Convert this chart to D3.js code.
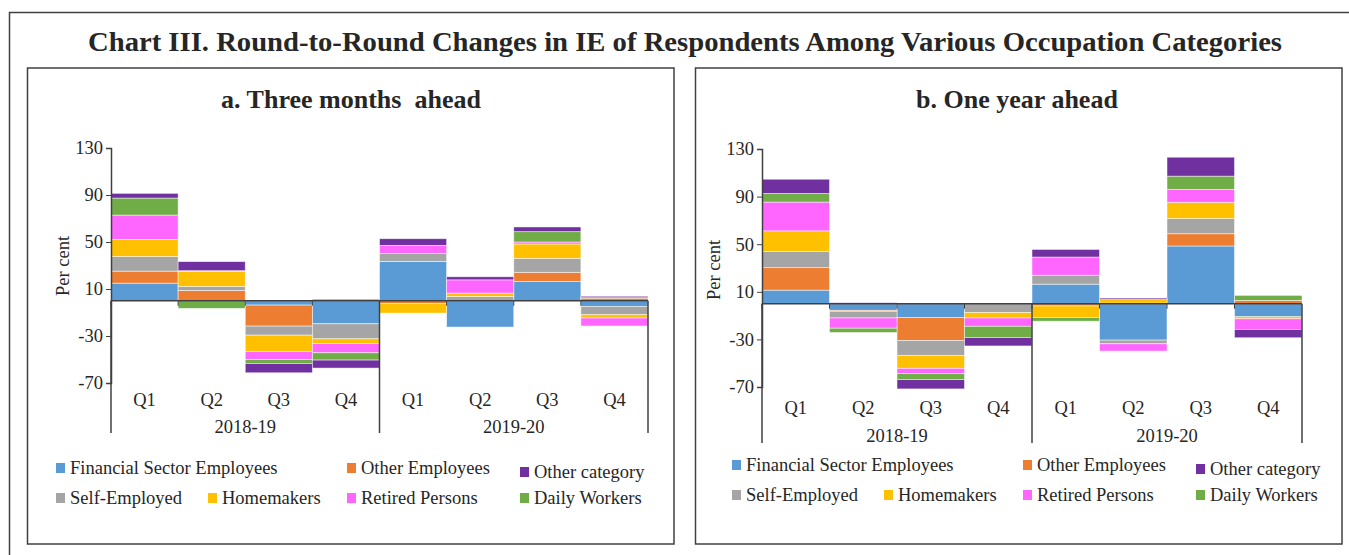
<!DOCTYPE html>
<html>
<head>
<meta charset="utf-8">
<script src="https://cdn.jsdelivr.net/npm/d3@7"></script>
<style>
    body { margin: 0; background: #fff; }
    text { font-family: "Liberation Serif", "DejaVu Serif", serif; fill: #262626; }
    .chartTitle { font-weight: bold; font-size: 27px; }
    .panelTitle { font-weight: bold; font-size: 26px; white-space: pre; }
    .tickText, .catText { font-size: 18.5px; }
    .legendText { font-size: 18.5px; }
</style>
</head>
<body>
<svg id="chart" width="1349" height="555"></svg>
<script>
/***** Data */

const periods = ['2018-19 Q1', '2018-19 Q2', '2018-19 Q3', '2018-19 Q4',
                 '2019-20 Q1', '2019-20 Q2', '2019-20 Q3', '2019-20 Q4'];
const quarterLabels = ['Q1', 'Q2', 'Q3', 'Q4', 'Q1', 'Q2', 'Q3', 'Q4'];
const yearLabels = ['2018-19', '2019-20'];
const yTicks = [-70, -30, 10, 50, 90, 130];

const seriesNames = ['Financial Sector Employees', 'Other Employees', 'Self-Employed',
                     'Homemakers', 'Retired Persons', 'Daily Workers', 'Other category'];
const seriesColors = ['#5b9bd5', '#ed7d31', '#a5a5a5', '#ffc000', '#ff66ff', '#70ad47', '#7030a0'];

// a. Three months ahead, one array per occupation (in stacking order)
const threeMonthFinancial = [15.0, 0, -3.7, -19.6, 33.5, -22.4, 16.5, -4.8];
const threeMonthOtherEmp  = [10.2, 8.8, -17.9, 1.4, -2.5, 0, 7.7, 2.2];
const threeMonthSelfEmp   = [12.5, 3.4, -7.7, -12.8, 6.8, 3.7, 11.9, -7.1];
const threeMonthHomemaker = [14.5, 12.8, -13.9, -4.0, -8.0, 2.8, 12.2, -2.8];
const threeMonthRetired   = [20.7, 0.6, -6.8, -7.9, 6.8, 11.3, 1.7, -6.8];
const threeMonthDaily     = [14.5, -6.5, -3.4, -6.2, 0, 0, 8.8, 0.4];
const threeMonthOtherCat  = [4.0, 7.7, -7.9, -6.8, 5.7, 2.6, 4.0, 1.2];

// b. One year ahead
const oneYearFinancial = [11.4, -5.6, -11.7, 0, 16.4, -30.6, 48.5, -11.0];
const oneYearOtherEmp  = [18.9, -0.8, -19.2, 0.3, -1.9, 0.5, 10.3, 2.8];
const oneYearSelfEmp   = [13.6, -5.6, -12.5, -7.5, 7.5, -3.1, 12.8, 0];
const oneYearHomemaker = [17.3, 0, -10.9, -4.5, -9.7, 3.0, 13.6, -1.7];
const oneYearRetired   = [24.2, -8.6, -4.5, -7.0, 15.3, -6.1, 10.9, -8.9];
const oneYearDaily     = [7.2, -3.6, -5.0, -9.5, -3.1, 0, 11.1, 4.2];
const oneYearOtherCat  = [12.0, 0.8, -7.8, -7.0, 6.4, 1.2, 15.9, -7.0];

const threeMonthSeries = [threeMonthFinancial, threeMonthOtherEmp, threeMonthSelfEmp,
    threeMonthHomemaker, threeMonthRetired, threeMonthDaily, threeMonthOtherCat];
const oneYearSeries = [oneYearFinancial, oneYearOtherEmp, oneYearSelfEmp,
    oneYearHomemaker, oneYearRetired, oneYearDaily, oneYearOtherCat];

/***** Drawing */

const svg = d3.select('#chart');

// outer frame and main title
svg.append('rect')
    .attr('x', 9.5).attr('y', 12.5)
    .attr('width', 1360).attr('height', 560)
    .attr('fill', 'none').attr('stroke', '#404040').attr('stroke-width', 1.5);

svg.append('text')
    .attr('class', 'chartTitle')
    .attr('x', 685).attr('y', 51)
    .attr('text-anchor', 'middle')
    .attr('textLength', 1194).attr('lengthAdjust', 'spacingAndGlyphs')
    .text('Chart III. Round-to-Round Changes in IE of Respondents Among Various Occupation Categories');

// input:
//  panel - layout of one sub chart (box, plot area, label rows, legend spots)
//  seriesValues - array of 7 arrays, one per occupation
function drawPanel (panel, seriesValues) {
    const g = svg.append('g');

    g.append('rect')
        .attr('x', panel.box[0]).attr('y', panel.box[1])
        .attr('width', panel.box[2]).attr('height', panel.box[3])
        .attr('fill', 'none').attr('stroke', '#404040').attr('stroke-width', 1.5);

    g.append('text')
        .attr('class', 'panelTitle')
        .attr('x', panel.titleX).attr('y', 108)
        .attr('text-anchor', 'middle')
        .text(panel.title);

    const x = d3.scaleBand()
        .domain(periods)
        .range([panel.left, panel.right])
        .padding(0);

    const y = d3.scaleLinear()
        .domain([-70, 130])
        .range([panel.bottom, panel.top]);

    // rows keyed by period, columns by series name
    const rows = periods.map((period, i) => {
        const row = { period };
        seriesNames.forEach((name, s) => { row[name] = seriesValues[s][i]; });
        return row;
    });

    const stacked = d3.stack()
        .keys(seriesNames)
        .offset(d3.stackOffsetDiverging)(rows);

    g.selectAll('.layer')
        .data(stacked)
        .enter()
        .append('g')
        .attr('class', 'layer')
        .attr('fill', (d, i) => seriesColors[i])
        .selectAll('rect')
        .data(d => d)
        .enter()
        .append('rect')
        .attr('x', d => x(d.data.period))
        .attr('width', x.bandwidth())
        .attr('y', d => y(Math.max(d[0], d[1])))
        .attr('height', d => Math.abs(y(d[0]) - y(d[1])))
        .attr('stroke', '#ffffff')
        .attr('stroke-opacity', 0.6)
        .attr('stroke-width', 0.8);

    // y axis, plain hyphen for negatives like the original
    const yAxis = g.append('g')
        .attr('transform', `translate(${panel.left},0)`)
        .call(d3.axisLeft(y).tickValues(yTicks).tickSize(5).tickPadding(3)
            .tickFormat(d => String(d)));
    yAxis.select('.domain').attr('stroke', '#404040').attr('stroke-width', 1.5);
    yAxis.selectAll('.tick line').attr('stroke', '#404040');
    yAxis.selectAll('.tick text')
        .attr('class', 'tickText')
        .attr('font-family', null).attr('font-size', null)
        .attr('fill', '#262626');

    g.append('text')
        .attr('class', 'tickText')
        .attr('transform', `translate(${panel.left - 42},${panel.labelMidY}) rotate(-90)`)
        .attr('text-anchor', 'middle')
        .text('Per cent');

    // category axis along zero
    const zeroY = y(0);
    g.append('line')
        .attr('x1', panel.left).attr('x2', panel.right)
        .attr('y1', zeroY).attr('y2', zeroY)
        .attr('stroke', '#404040').attr('stroke-width', 1.5);

    g.selectAll('.bandTick')
        .data(periods)
        .enter()
        .append('line')
        .attr('class', 'bandTick')
        .attr('x1', d => x(d)).attr('x2', d => x(d))
        .attr('y1', zeroY).attr('y2', zeroY + 5)
        .attr('stroke', '#404040');

    // year group separators run from the axis down past the labels
    const separatorXs = [x(periods[0]), x(periods[4]), panel.right];
    g.selectAll('.yearSeparator')
        .data(separatorXs)
        .enter()
        .append('line')
        .attr('class', 'yearSeparator')
        .attr('x1', d => d).attr('x2', d => d)
        .attr('y1', zeroY).attr('y2', panel.separatorBottom)
        .attr('stroke', '#404040').attr('stroke-width', 1.5);

    g.selectAll('.quarterLabel')
        .data(periods)
        .enter()
        .append('text')
        .attr('class', 'catText')
        .attr('x', d => x(d) + x.bandwidth() / 2)
        .attr('y', panel.quarterY)
        .attr('text-anchor', 'middle')
        .text((d, i) => quarterLabels[i]);

    g.selectAll('.yearLabel')
        .data(yearLabels)
        .enter()
        .append('text')
        .attr('class', 'catText')
        .attr('x', (d, i) => x(periods[i * 4]) + x.bandwidth() * 2)
        .attr('y', panel.yearY)
        .attr('text-anchor', 'middle')
        .text(d => d);

    // legend, laid out like the excel original
    const legend = g.selectAll('.legendItem')
        .data(panel.legendSpots)
        .enter()
        .append('g')
        .attr('class', 'legendItem')
        .attr('transform', (spot) => `translate(${spot[1]},${spot[2]})`);
    legend.append('rect')
        .attr('x', 0).attr('y', -5)
        .attr('width', 9).attr('height', 10)
        .attr('fill', (spot) => seriesColors[spot[0]]);
    legend.append('text')
        .attr('class', 'legendText')
        .attr('x', 14).attr('y', 6)
        .text((spot) => seriesNames[spot[0]]);
}

// legend spots: [series index, x, y centre]
drawPanel({
    box: [27.5, 68, 646.5, 476],
    title: 'a. Three months  ahead',
    titleX: 351,
    left: 111, right: 648, top: 148, bottom: 383,
    labelMidY: 266,
    quarterY: 406, yearY: 433, separatorBottom: 433,
    legendSpots: [[0, 56, 468], [1, 347, 468], [6, 520, 472],
                  [2, 56, 498], [3, 208, 498], [4, 347, 498], [5, 520, 498]]
}, threeMonthSeries);

drawPanel({
    box: [695.5, 68, 646.5, 476],
    title: 'b. One year ahead',
    titleX: 1017,
    left: 762, right: 1302, top: 149, bottom: 387,
    labelMidY: 270,
    quarterY: 414, yearY: 442, separatorBottom: 443,
    legendSpots: [[0, 732, 465], [1, 1023, 465], [6, 1196, 469],
                  [2, 732, 495], [3, 884, 495], [4, 1023, 495], [5, 1196, 495]]
}, oneYearSeries);
</script>
</body>
</html>
